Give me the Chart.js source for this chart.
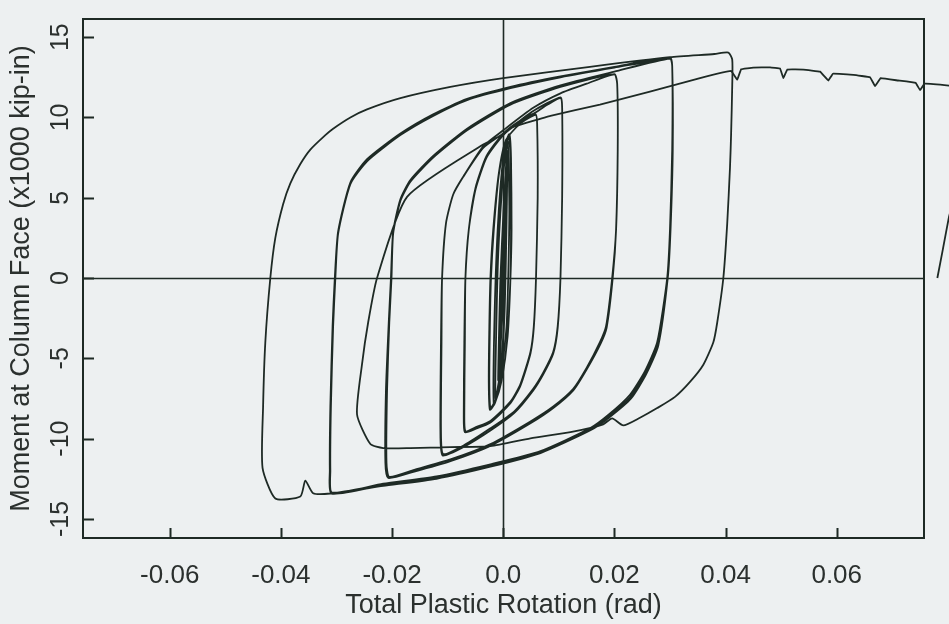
<!DOCTYPE html>
<html>
<head>
<meta charset="utf-8">
<title>Moment – Plastic Rotation Hysteresis</title>
<script src="https://cdn.jsdelivr.net/npm/chart.js@4.4.1/dist/chart.umd.min.js"></script>
<style>
  html, body { margin: 0; padding: 0; background: #edf0f1; }
  #wrap { width: 949px; height: 624px; }
  canvas { display: block; }
</style>
</head>
<body>
<div id="wrap"><canvas id="chart" width="949" height="624"></canvas></div>
<script>
// Axis ticks
const xTickValues = [-0.06, -0.04, -0.02, 0, 0.02, 0.04, 0.06];
const xTickLabels = ['-0.06', '-0.04', '-0.02', '0.0', '0.02', '0.04', '0.06'];
const yTickValues = [-15, -10, -5, 0, 5, 10, 15];
const yTickLabels = ['-15', '-10', '-5', '0', '5', '10', '15'];

// Loading history, stage by stage: plastic rotation (rad) and moment (x1000 kip-in)
const rotElastic = [0, 0.0002, 0.0000, -0.0003, -0.0001, 0.0004, 0.0001, -0.0006, -0.0003, 0.0005, 0.0002, -0.0009, -0.0005, 0.0001, 0.0007, 0.0006, 0.0002, -0.0006, -0.0014, -0.0013, -0.0009, 0.0000, 0.0008, 0.0011, 0.0006, -0.0008, -0.0017, -0.0016, -0.0010, 0.0000, 0.0009];
const momElastic = [0, 3.0, 0.0, -3.2, 0.0, 5.1, 0.0, -5.0, 0.0, 6.6, 0.0, -6.4, 0.0, 4.5, 7.9, 3.5, -2.5, -6.0, -7.5, -4.0, 1.5, 6.5, 8.5, 4.0, -3.0, -7.0, -7.9, -3.0, 3.0, 7.5, 8.8];

const rotCycle002 = [0.0010, 0.0013, 0.0014, 0.0013, 0.0008, -0.0002, -0.0014, -0.0023, -0.0025, -0.0024, -0.0022, -0.0017, -0.0008, 0.0002, 0.0011, 0.0014, 0.0015, 0.0013, 0.0008, -0.0003, -0.0015, -0.0024, -0.0026, -0.0025, -0.0023, -0.0018, -0.0008, 0.0005, 0.0030, 0.0058];
const momCycle002 = [8.93, 7.6, 3.0, 0.0, -3.5, -6.2, -7.6, -8.10, -6.5, -3.0, 0.0, 3.0, 6.4, 8.2, 8.95, 7.5, 3.0, 0.0, -3.6, -6.4, -7.8, -8.20, -6.5, -3.0, 0.0, 3.0, 6.5, 8.6, 9.6, 10.16];

const rotCycle006 = [0.0061, 0.0062, 0.0059, 0.0055, 0.0049, 0.0031, 0.0013, -0.0023, -0.0050, -0.0068, -0.0070, -0.0069, -0.0068, -0.0062, -0.0050, -0.0030, 0.0000, 0.0030, 0.0058, 0.0061, 0.0062, 0.0059, 0.0055, 0.0049, 0.0031, 0.0013, -0.0023, -0.0050, -0.0069, -0.0071, -0.0070, -0.0068, -0.0062, -0.0050, -0.0030, 0.0000, 0.0030, 0.0058, 0.0080, 0.0103];
const momCycle006 = [9.6, 5.0, 0.0, -3.0, -4.6, -6.6, -7.7, -8.9, -9.3, -9.54, -8.5, -4.0, 0.0, 3.0, 5.5, 7.5, 8.9, 9.7, 10.20, 9.6, 5.0, 0.0, -3.1, -4.7, -6.7, -7.8, -9.0, -9.4, -9.60, -8.5, -4.0, 0.0, 3.0, 5.6, 7.6, 9.0, 9.8, 10.3, 10.8, 11.20];

const rotCycle010 = [0.0106, 0.0106, 0.0103, 0.0098, 0.0090, 0.0072, 0.0054, 0.0020, -0.0023, -0.0070, -0.0108, -0.0112, -0.0111, -0.0110, -0.0103, -0.0090, -0.0072, -0.0036, 0.0000, 0.0054, 0.0103, 0.0106, 0.0106, 0.0103, 0.0098, 0.0090, 0.0072, 0.0054, 0.0020, -0.0023, -0.0070, -0.0109, -0.0113, -0.0112, -0.0110, -0.0103, -0.0090, -0.0072, -0.0036, 0.0000, 0.0054, 0.0103, 0.0150, 0.0200];
const momCycle010 = [10.6, 5.0, 0.0, -3.0, -4.6, -5.9, -6.9, -8.3, -9.36, -10.4, -10.96, -9.5, -4.0, 0.0, 3.4, 5.2, 6.3, 8.1, 9.0, 10.4, 11.25, 10.6, 5.0, 0.0, -3.1, -4.7, -6.0, -7.0, -8.4, -9.5, -10.5, -11.05, -9.5, -4.0, 0.0, 3.4, 5.2, 6.3, 8.2, 9.2, 10.6, 11.5, 12.1, 12.68];

const rotCycle020 = [0.0205, 0.0206, 0.0203, 0.0196, 0.0185, 0.0174, 0.0150, 0.0126, 0.0090, 0.0049, -0.0023, -0.0095, -0.0160, -0.0205, -0.0210, -0.0209, -0.0205, -0.0201, -0.0198, -0.0185, -0.0167, -0.0126, -0.0065, 0.0013, 0.0103, 0.0200, 0.0205, 0.0206, 0.0203, 0.0197, 0.0186, 0.0175, 0.0150, 0.0126, 0.0090, 0.0049, -0.0023, -0.0095, -0.0160, -0.0207, -0.0212, -0.0211, -0.0206, -0.0202, -0.0198, -0.0185, -0.0167, -0.0126, -0.0065, 0.0013, 0.0103, 0.0200, 0.0300];
const momCycle020 = [12.1, 8.0, 3.0, 0.0, -3.0, -4.0, -5.6, -6.9, -8.0, -8.93, -10.34, -11.3, -11.95, -12.38, -11.5, -7.0, -2.8, 0.0, 2.77, 4.8, 6.0, 7.5, 9.2, 10.8, 11.9, 12.70, 12.1, 8.0, 3.0, 0.0, -3.1, -4.1, -5.7, -7.0, -8.1, -9.05, -10.45, -11.4, -12.05, -12.45, -11.5, -7.0, -2.8, 0.0, 2.9, 4.9, 6.1, 7.6, 9.3, 10.9, 12.0, 12.85, 13.67];

const rotCycle030 = [0.0304, 0.0304, 0.0300, 0.0295, 0.0277, 0.0255, 0.0228, 0.0190, 0.0156, 0.0067, -0.0023, -0.0120, -0.0216, -0.0308, -0.0311, -0.0310, -0.0306, -0.0302, -0.0297, -0.0275, -0.0245, -0.0185, -0.0126, -0.0065, 0.0013, 0.0103, 0.0200, 0.0300, 0.0304, 0.0305, 0.0301, 0.0296, 0.0278, 0.0256, 0.0229, 0.0190, 0.0156, 0.0067, -0.0023, -0.0120, -0.0216, -0.0309, -0.0312, -0.0311, -0.0307, -0.0303, -0.0297, -0.0275, -0.0245, -0.0185, -0.0126, -0.0065, 0.0013, 0.0103, 0.0200, 0.0300];
const momCycle030 = [13.2, 8.0, 3.0, 0.0, -4.0, -5.8, -7.27, -8.5, -9.36, -10.78, -11.6, -12.35, -12.81, -13.36, -12.0, -8.0, -3.0, 0.0, 2.77, 5.85, 7.27, 8.9, 10.1, 11.08, 11.82, 12.5, 13.1, 13.67, 13.2, 8.0, 3.0, 0.0, -4.1, -5.9, -7.4, -8.6, -9.45, -10.85, -11.7, -12.45, -12.9, -13.42, -12.0, -8.0, -3.0, 0.0, 2.9, 5.95, 7.4, 9.0, 10.2, 11.15, 11.9, 12.55, 13.15, 13.72];

const rotCycle040 = [0.0304, 0.0305, 0.0301, 0.0296, 0.0279, 0.0257, 0.0230, 0.0190, 0.0156, 0.0067, -0.0023, -0.0120, -0.0216, -0.0311, -0.0342, -0.0356, -0.0365, -0.0410, -0.0433, -0.0432, -0.0428, -0.0419, -0.0410, -0.0396, -0.0383, -0.0365, -0.0347, -0.0320, -0.0306, -0.0275, -0.0245, -0.0185, -0.0095, 0.0000, 0.0156, 0.0300, 0.0380, 0.0405];
const momCycle040 = [13.2, 8.0, 3.0, 0.0, -4.2, -6.0, -7.5, -8.7, -9.5, -10.9, -11.75, -12.5, -12.95, -13.42, -13.40, -12.62, -13.61, -13.73, -11.82, -8.0, -4.0, 0.0, 2.5, 4.6, 5.9, 7.1, 8.0, 8.9, 9.3, 10.0, 10.5, 11.2, 11.9, 12.45, 13.15, 13.75, 13.95, 14.04];

const rotFracture = [0.0412, 0.0412, 0.0410, 0.0408, 0.0403, 0.0396, 0.0385, 0.0378, 0.0360, 0.0336, 0.0309, 0.0277, 0.0246, 0.0216, 0.0196, 0.0180, 0.0121, 0.0049, -0.0023, -0.0095, -0.0167, -0.0216, -0.0239, -0.0263, -0.0254, -0.0243, -0.0227, -0.0173, -0.0036, 0.0000];
const momFracture = [13.6, 12.0, 9.0, 6.9, 3.4, 0.0, -2.77, -4.0, -5.4, -6.47, -7.4, -8.1, -8.7, -9.18, -8.74, -9.11, -9.6, -9.98, -10.47, -10.53, -10.59, -10.59, -10.34, -8.50, -5.36, -2.77, 0.0, 5.05, 8.31, 8.93];

// Final monotonic push (continues from the last fracture point) and unloading
const rotFinalPush = [0.0000, 0.0013, 0.0085, 0.0174, 0.0264, 0.0354, 0.0410, 0.0421, 0.0428, 0.0450, 0.0480, 0.0498, 0.0504, 0.0511, 0.0540, 0.0570, 0.0585, 0.0593, 0.0630, 0.0660, 0.0669, 0.0679, 0.0710, 0.0742, 0.0750, 0.0758, 0.0802, 0.0830, 0.0834, 0.0822, 0.0802, 0.0791, 0.0781];
const momFinalPush = [8.93, 9.36, 10.10, 10.80, 11.60, 12.45, 12.90, 12.35, 13.00, 13.10, 13.12, 13.05, 12.45, 12.98, 12.98, 12.85, 12.30, 12.72, 12.65, 12.50, 11.95, 12.45, 12.30, 12.15, 11.70, 12.10, 11.98, 11.85, 9.5, 6.5, 3.82, 1.8, 0.0];

const cyclicStages = [
  [rotElastic, momElastic],
  [rotCycle002, momCycle002],
  [rotCycle006, momCycle006],
  [rotCycle010, momCycle010],
  [rotCycle020, momCycle020],
  [rotCycle030, momCycle030],
  [rotCycle040, momCycle040],
  [rotFracture, momFracture]
];
const cyclicPath = [];
cyclicStages.forEach(([rot, mom]) => rot.forEach((r, i) => cyclicPath.push({ x: r, y: mom[i] })));
const pushPath = rotFinalPush.map((r, i) => ({ x: r, y: momFinalPush[i] }));

const INK = '#1e2a25';
const TEXT = '#2b302e';
const BG = '#edf0f1';

// Paper background, zero lines, frame and inward tick marks
const paperPlugin = {
  id: 'paper',
  beforeDraw(chart) {
    const { ctx, width, height } = chart;
    ctx.save();
    ctx.fillStyle = BG;
    ctx.fillRect(0, 0, width, height);
    ctx.restore();
  },
  beforeDatasetsDraw(chart) {
    const { ctx, chartArea: a, scales: { x, y } } = chart;
    ctx.save();
    ctx.strokeStyle = INK;
    ctx.lineWidth = 1.6;
    const y0 = Math.round(y.getPixelForValue(0)) + 0.5;
    const x0 = Math.round(x.getPixelForValue(0)) + 0.5;
    ctx.beginPath();
    ctx.moveTo(a.left, y0); ctx.lineTo(a.right, y0);
    ctx.moveTo(x0, a.top); ctx.lineTo(x0, a.bottom);
    ctx.stroke();
    ctx.restore();
  },
  afterDatasetsDraw(chart) {
    const { ctx, chartArea: a, scales: { x, y } } = chart;
    ctx.save();
    ctx.strokeStyle = INK;
    ctx.lineWidth = 2;
    ctx.strokeRect(a.left, a.top, a.right - a.left, a.bottom - a.top);
    ctx.beginPath();
    yTickValues.forEach(v => {
      const py = Math.round(y.getPixelForValue(v)) + 0.5;
      ctx.moveTo(a.left, py); ctx.lineTo(a.left + 11, py);
    });
    xTickValues.forEach(v => {
      const px = Math.round(x.getPixelForValue(v)) + 0.5;
      ctx.moveTo(px, a.bottom); ctx.lineTo(px, a.bottom - 10);
    });
    ctx.stroke();
    ctx.restore();
  }
};

Chart.defaults.font.family = '"Liberation Sans", Arial, Helvetica, sans-serif';
Chart.defaults.color = TEXT;

new Chart(document.getElementById('chart'), {
  type: 'scatter',
  data: {
    datasets: [{
      data: cyclicPath,
      showLine: true,
      borderColor: INK,
      borderWidth: 1.8,
      pointRadius: 0,
      tension: 0.2,
      clip: false
    }, {
      data: pushPath,
      showLine: true,
      borderColor: INK,
      borderWidth: 1.8,
      pointRadius: 0,
      tension: 0.05,
      clip: false
    }]
  },
  options: {
    responsive: false,
    animation: false,
    devicePixelRatio: 1,
    layout: { padding: { top: 13, right: 25, left: 0, bottom: 0 } },
    plugins: { legend: { display: false }, tooltip: { enabled: false } },
    scales: {
      x: {
        type: 'linear',
        min: -0.0756,
        max: 0.0757,
        afterBuildTicks: s => { s.ticks = xTickValues.map(v => ({ value: v })); },
        afterFit: s => { s.height = 86; },
        grid: { display: false, drawTicks: false },
        border: { display: false },
        ticks: {
          autoSkip: false,
          maxRotation: 0,
          padding: 22,
          font: { size: 26 },
          color: TEXT,
          callback: (v, i) => xTickLabels[i]
        },
        title: {
          display: true,
          text: 'Total Plastic Rotation (rad)',
          font: { size: 27 },
          color: TEXT,
          padding: { top: 0, bottom: 2 }
        }
      },
      y: {
        type: 'linear',
        min: -16.19,
        max: 16.13,
        afterBuildTicks: s => { s.ticks = yTickValues.map(v => ({ value: v })); },
        afterFit: s => { s.width = 83; },
        grid: { display: false, drawTicks: false },
        border: { display: false },
        ticks: {
          autoSkip: false,
          minRotation: 90,
          maxRotation: 90,
          crossAlign: 'center',
          padding: 4,
          font: { size: 25 },
          color: TEXT,
          callback: (v, i) => yTickLabels[i]
        },
        title: {
          display: true,
          text: 'Moment at Column Face (x1000 kip-in)',
          font: { size: 27 },
          color: TEXT,
          padding: { top: 5, bottom: 0 }
        }
      }
    }
  },
  plugins: [paperPlugin]
});
</script>
</body>
</html>
